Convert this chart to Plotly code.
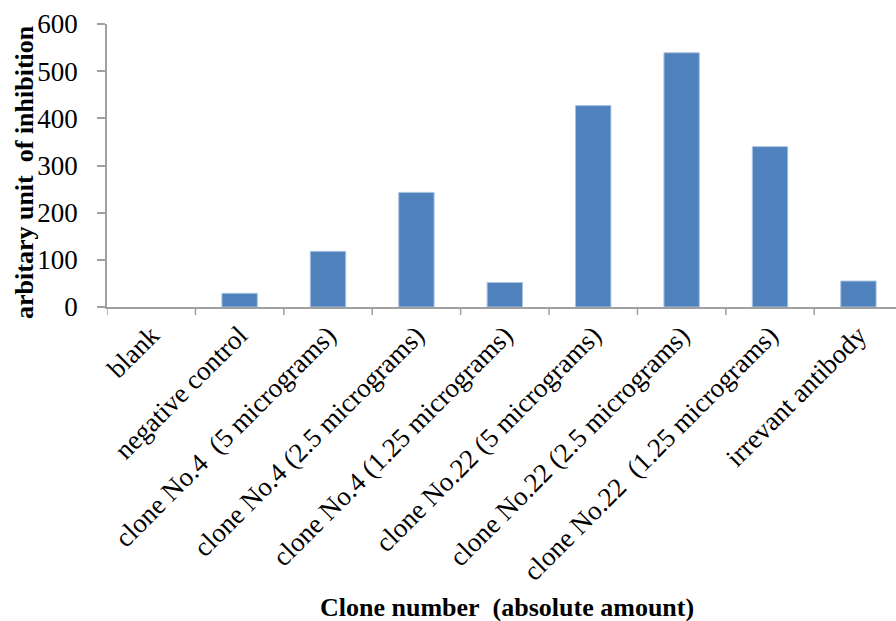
import plotly.graph_objects as go

categories = [
    "blank",
    "negative control",
    "clone No.4\u00a0\u00a0(5 micrograms)",
    "clone No.4 (2.5 micrograms)",
    "clone No.4 (1.25 micrograms)",
    "clone No.22 (5 micrograms)",
    "clone No.22 (2.5 micrograms)",
    "clone No.22\u00a0\u00a0(1.25 micrograms)",
    "irrevant antibody",
]
inhibition = [0, 29, 118, 243, 52, 427, 539, 340, 55]
y_ticks = [0, 100, 200, 300, 400, 500, 600]

W, H = 896, 621
left, right, top, bottom = 107, 0, 24, 314

serif = "Liberation Serif"
axis_grey = "#a0a0a0"

fig = go.Figure(
    go.Bar(
        x=list(range(len(categories))),
        y=inhibition,
        width=0.4,
        marker=dict(
            color="#4f81bd",
            line=dict(color="#a9c2e2", width=[1 if v > 0 else 0 for v in inhibition]),
        ),
    )
)

fig.update_layout(
    width=W,
    height=H,
    margin=dict(l=left, r=right, t=top, b=bottom, pad=0),
    paper_bgcolor="white",
    plot_bgcolor="white",
    showlegend=False,
    font=dict(family=serif, color="black"),
    xaxis=dict(
        tickmode="array",
        tickvals=list(range(len(categories))),
        ticktext=categories,
        tickangle=-45,
        tickfont=dict(size=27, family=serif, color="black"),
        range=[-0.5, 8.425],
        showline=True,
        linecolor=axis_grey,
        linewidth=1.5,
        showgrid=False,
        zeroline=False,
        ticks="",
        ticklabelstandoff=0,
    ),
    yaxis=dict(
        range=[0, 600],
        tickvals=y_ticks,
        tickfont=dict(size=27, family=serif, color="black"),
        ticks="outside",
        ticklen=8,
        tickcolor=axis_grey,
        tickwidth=1.5,
        showline=True,
        linecolor=axis_grey,
        linewidth=1.5,
        showgrid=False,
        zeroline=False,
        ticklabelstandoff=14,
    ),
    annotations=[
        dict(
            text="<b>Clone number\u00a0\u00a0(absolute amount)</b>",
            xref="paper", yref="paper",
            x=(507 - left) / (W - left - right),
            y=-(607 - (H - bottom)) / (H - top - bottom),
            xanchor="center", yanchor="middle",
            showarrow=False,
            font=dict(size=26, family=serif, color="black"),
        ),
        dict(
            text="<b>arbitary unit\u00a0\u00a0of inhibition</b>",
            xref="paper", yref="paper",
            x=-(left - 25) / (W - left - right),
            y=((H - bottom) - 172) / (H - top - bottom),
            xanchor="center", yanchor="middle",
            textangle=-90,
            showarrow=False,
            font=dict(size=26, family=serif, color="black"),
        ),
    ],
)

# tick marks on the category boundaries of the x axis
for b in [i - 0.5 for i in range(len(categories) + 1)]:
    fig.add_shape(
        type="line",
        xref="x", yref="paper",
        x0=b, x1=b, y0=0, y1=-8 / (H - top - bottom),
        line=dict(color=axis_grey, width=1.5),
    )

fig.write_html("out.html")
